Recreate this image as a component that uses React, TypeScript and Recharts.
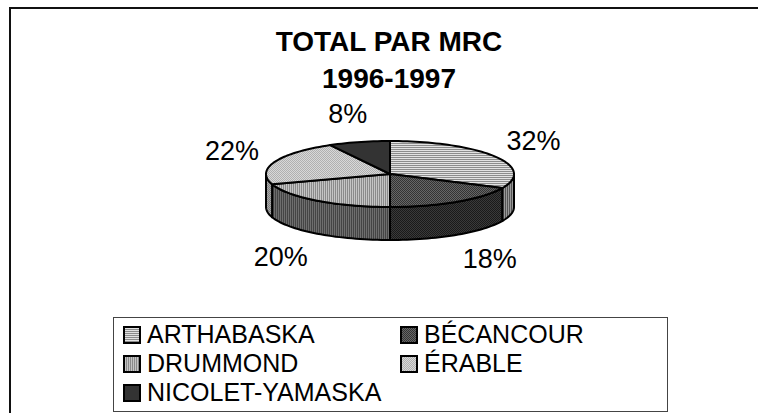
import { PieChart, Pie, Legend } from 'recharts';

const names = ['ARTHABASKA', 'BÉCANCOUR', 'DRUMMOND', 'ÉRABLE', 'NICOLET-YAMASKA'];
const shares = [32, 18, 20, 22, 8];
const titleLines = ['TOTAL PAR MRC', '1996-1997'];

const data = names.map((name, i) => ({ name, value: shares[i] }));

// pattern ids per slice, top face and side wall
const topFill: Record<string, string> = {
  ARTHABASKA: 'url(#artTop)',
  'BÉCANCOUR': 'url(#becTop)',
  DRUMMOND: 'url(#druTop)',
  'ÉRABLE': 'url(#eraTop)',
  'NICOLET-YAMASKA': '#333333',
};
const sideFill: Record<string, string> = {
  ARTHABASKA: 'url(#artSide)',
  'BÉCANCOUR': 'url(#becSide)',
  DRUMMOND: 'url(#druSide)',
  'ÉRABLE': 'url(#eraSide)',
  'NICOLET-YAMASKA': '#222222',
};

const FONT = '"Liberation Sans", Arial, sans-serif';
const TILT = 0.266;
const DEPTH = 33;

const pt = (cx: number, cy: number, rx: number, ry: number, a: number) => {
  const rad = (a * Math.PI) / 180;
  return [cx + rx * Math.cos(rad), cy - ry * Math.sin(rad)];
};

const arc = (cx: number, cy: number, rx: number, ry: number, a0: number, a1: number) => {
  const n = Math.max(2, Math.ceil(Math.abs(a1 - a0) / 2));
  const out: number[][] = [];
  for (let i = 0; i <= n; i++) out.push(pt(cx, cy, rx, ry, a0 + ((a1 - a0) * i) / n));
  return out;
};

const Slice3D = (props: any) => {
  const { cx, cy, outerRadius, startAngle, endAngle, payload, name } = props;
  const key = payload?.name ?? name;
  const rx = outerRadius;
  const ry = outerRadius * TILT;
  const lo = Math.min(startAngle, endAngle);
  const hi = Math.max(startAngle, endAngle);
  const sides: string[] = [];
  [[-540, -360], [-180, 0], [180, 360]].forEach(([f0, f1]) => {
    const a = Math.max(lo, f0);
    const b = Math.min(hi, f1);
    if (b - a > 0.01) {
      const top = arc(cx, cy, rx, ry, a, b);
      const bot = arc(cx, cy + DEPTH, rx, ry, b, a);
      const pts = [...top, ...bot];
      sides.push('M' + pts.map((p) => `${p[0].toFixed(2)},${p[1].toFixed(2)}`).join('L') + 'Z');
    }
  });
  const face = arc(cx, cy, rx, ry, startAngle, endAngle);
  const d = `M${cx},${cy}L` + face.map((p) => `${p[0].toFixed(2)},${p[1].toFixed(2)}`).join('L') + 'Z';
  return (
    <g>
      {sides.map((s, i) => (
        <path key={i} d={s} fill={sideFill[key]} stroke="#000" strokeWidth={2} strokeLinejoin="round" />
      ))}
      <path d={d} fill={topFill[key]} stroke="#000" strokeWidth={2} strokeLinejoin="round" />
    </g>
  );
};

const renderLabel = (props: any) => {
  const { cx, cy, outerRadius, midAngle, value } = props;
  const rad = (midAngle * Math.PI) / 180;
  const s = Math.sin(rad);
  // labels on the front sit a bit further out, below the wall
  const x = cx + (outerRadius + (s < 0 ? 62 : 46)) * Math.cos(rad);
  const y = cy - (outerRadius * TILT + 29) * s + (s < 0 ? DEPTH : 0);
  return (
    <text x={x} y={y} textAnchor="middle" dominantBaseline="central" fontSize={27} fontFamily={FONT} fill="#000">
      {`${value}%`}
    </text>
  );
};

const LegendBox = () => (
  <div
    style={{
      boxSizing: 'border-box',
      width: 555,
      height: 95,
      border: '1px solid #444',
      paddingTop: 2,
      paddingLeft: 9,
      display: 'grid',
      gridTemplateColumns: '277px 260px',
      gridAutoRows: '29px',
      fontFamily: FONT,
      fontSize: 25,
      color: '#000',
    }}
  >
    {names.map((n) => (
      <div key={n} style={{ display: 'flex', alignItems: 'center', whiteSpace: 'nowrap' }}>
        <svg width={18} height={18} style={{ marginRight: 6, flex: 'none' }}>
          <rect x={1} y={1} width={16} height={16} fill={topFill[n]} stroke="#000" strokeWidth={2} />
        </svg>
        <span>{n}</span>
      </div>
    ))}
  </div>
);

export default function App() {
  return (
    <div style={{ position: 'absolute', left: 0, top: 0, width: 758, height: 413, background: '#fff' }}>
      <PieChart width={758} height={413} margin={{ top: 0, right: 0, bottom: 0, left: 0 }}>
        <defs>
          <pattern id="artTop" width={4} height={2} patternUnits="userSpaceOnUse">
            <rect width={4} height={2} fill="#e2e2e2" />
            <rect y={1} width={4} height={1} fill="#8c8c8c" />
          </pattern>
          <pattern id="artSide" width={2} height={4} patternUnits="userSpaceOnUse">
            <rect width={2} height={4} fill="#9a9a9a" />
            <rect x={1} width={1} height={4} fill="#555" />
          </pattern>
          <pattern id="becTop" width={2} height={2} patternUnits="userSpaceOnUse">
            <rect width={2} height={2} fill="#666" />
            <rect width={1} height={1} fill="#333" />
            <rect x={1} y={1} width={1} height={1} fill="#333" />
          </pattern>
          <pattern id="becSide" width={2} height={2} patternUnits="userSpaceOnUse">
            <rect width={2} height={2} fill="#3a3a3a" />
            <rect width={1} height={1} fill="#1a1a1a" />
            <rect x={1} y={1} width={1} height={1} fill="#1a1a1a" />
          </pattern>
          <pattern id="druTop" width={2} height={4} patternUnits="userSpaceOnUse">
            <rect width={2} height={4} fill="#c4c4c4" />
            <rect x={1} width={1} height={4} fill="#8a8a8a" />
          </pattern>
          <pattern id="druSide" width={2} height={4} patternUnits="userSpaceOnUse">
            <rect width={2} height={4} fill="#6e6e6e" />
            <rect x={1} width={1} height={4} fill="#444" />
          </pattern>
          <pattern id="eraTop" width={2} height={2} patternUnits="userSpaceOnUse">
            <rect width={2} height={2} fill="#d8d8d8" />
            <rect width={1} height={1} fill="#b0b0b0" />
            <rect x={1} y={1} width={1} height={1} fill="#b0b0b0" />
          </pattern>
          <pattern id="eraSide" width={2} height={2} patternUnits="userSpaceOnUse">
            <rect width={2} height={2} fill="#a8a8a8" />
            <rect width={1} height={1} fill="#808080" />
            <rect x={1} y={1} width={1} height={1} fill="#808080" />
          </pattern>
        </defs>
        <rect x={10} y={8} width={800} height={450} fill="none" stroke="#111" strokeWidth={2} />
        <text x={389} y={51} textAnchor="middle" fontSize={28} fontWeight="bold" fontFamily={FONT} fill="#000">
          {titleLines[0]}
        </text>
        <text x={389} y={88} textAnchor="middle" fontSize={28} fontWeight="bold" fontFamily={FONT} fill="#000">
          {titleLines[1]}
        </text>
        <Pie
          data={data}
          dataKey="value"
          nameKey="name"
          cx={390}
          cy={174}
          outerRadius={124}
          startAngle={90}
          endAngle={-270}
          shape={Slice3D}
          label={renderLabel}
          labelLine={false}
          isAnimationActive={false}
        />
        <Legend
          content={() => <LegendBox />}
          wrapperStyle={{ position: 'absolute', left: 113, top: 317, width: 555, height: 95 }}
        />
      </PieChart>
    </div>
  );
}
